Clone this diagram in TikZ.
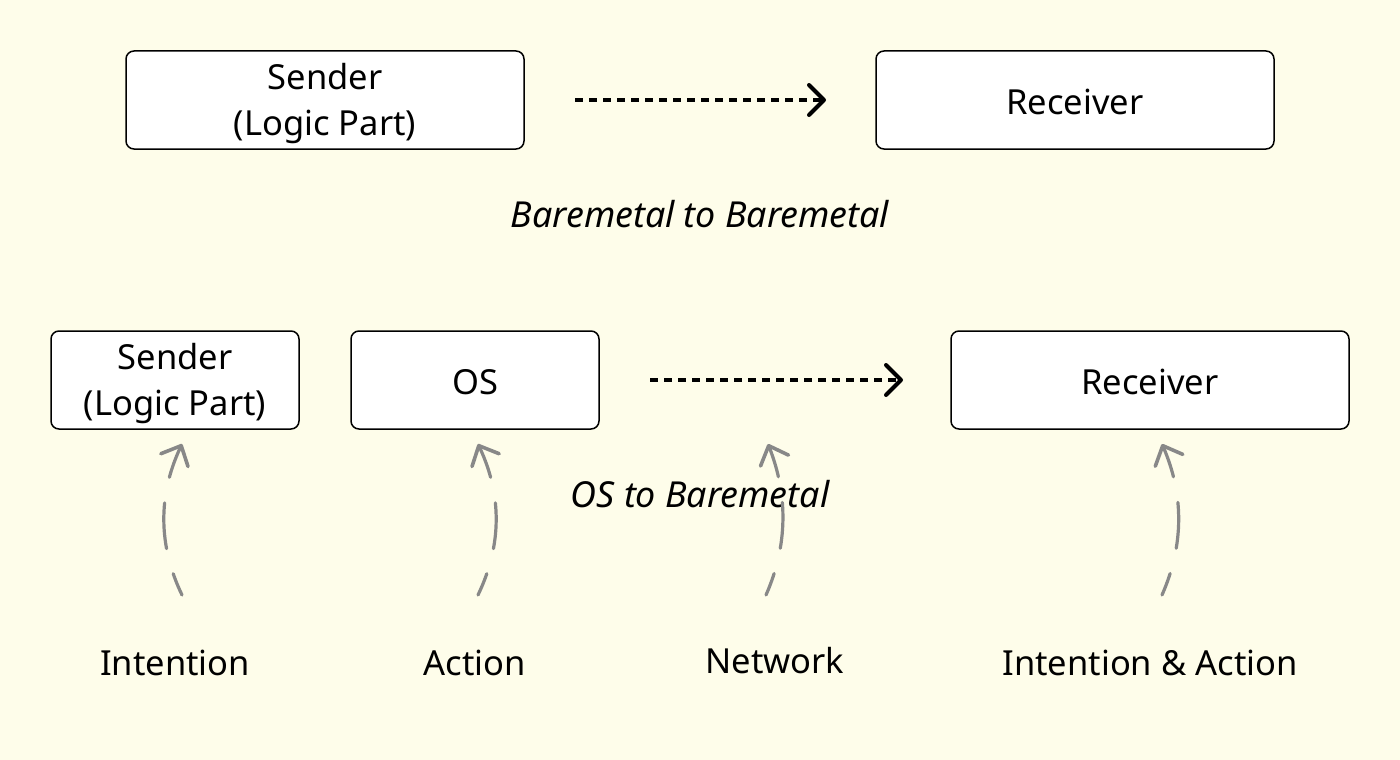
\documentclass[tikz,border=0pt]{standalone}
\usepackage{fontspec}
\setmainfont{Noto Sans}
\usetikzlibrary{arrows.meta}
\definecolor{bg}{RGB}{254,253,234}
\definecolor{arrgray}{RGB}{136,136,136}
\tikzset{
  box/.style={draw=black, line width=1.5pt, rounded corners=8pt, fill=white, align=center, inner sep=0pt},
  lbl/.style={font=\fontsize{34.5}{46}\selectfont, align=center, inner sep=0pt},
  ital/.style={font=\fontsize{35.8}{40}\selectfont\itshape, inner sep=0pt},
  flow/.style={line width=3.2pt, dash pattern=on 8pt off 6pt, -{Straight Barb[length=15pt,width=30pt,line width=4pt,line cap=round,line join=round]}},
  grayarr/.style={draw=arrgray, line width=3.2pt, line cap=round, dash pattern=on 46pt off 26pt, dash phase=23pt, -{Straight Barb[length=16pt,width=30pt,line width=3.6pt,line cap=round,line join=round]}}
}
\begin{document}
\begin{tikzpicture}[x=1pt,y=-1pt]
\fill[bg] (0,0) rectangle (1400,760);
\useasboundingbox (0,0) rectangle (1400,760);
% top row
\draw[box] (126,51) rectangle (524,149);
\node[lbl] (s1) at (325,104) {Sender\\(Logic Part)};
\draw[box] (876,51) rectangle (1274,149);
\node[lbl] (r1) at (1075,102) {Receiver};
\coordinate (a1s) at (575,100);
\coordinate (a1e) at (826,100);
\draw[flow] (a1s) -- (a1e);
\node[ital] (t1) at (700,214) {Baremetal to Baremetal};
% bottom row
\draw[box] (51,331) rectangle (299,429);
\node[lbl] (s2) at (175,384) {Sender\\(Logic Part)};
\draw[box] (351,331) rectangle (599,429);
\node[lbl] (os) at (475,382) {OS};
\draw[box] (951,331) rectangle (1349,429);
\node[lbl] (r2) at (1150,382) {Receiver};
\coordinate (a2s) at (650,380);
\coordinate (a2e) at (903,380);
\draw[flow] (a2s) -- (a2e);
\node[ital] (t2) at (700,494) {OS to Baremetal};
% labels
\node[lbl] (l1) at (175,663) {Intention};
\node[lbl] (l2) at (475,663) {Action};
\node[lbl] (l3) at (775,661) {Network};
\node[lbl] (l4) at (1150,663) {Intention \& Action};
% gray curved arrows
\coordinate (g1s) at (182,595); \coordinate (g1e) at (182,444);
\coordinate (g2s) at (478,595); \coordinate (g2e) at (478,444);
\coordinate (g3s) at (766,595); \coordinate (g3e) at (768,444);
\coordinate (g4s) at (1162,595); \coordinate (g4e) at (1162,444);
\draw[grayarr] (g1s) .. controls (158,545) and (158,495) .. (g1e);
\draw[grayarr] (g2s) .. controls (502,545) and (502,495) .. (g2e);
\draw[grayarr] (g3s) .. controls (788,545) and (788,495) .. (g3e);
\draw[grayarr] (g4s) .. controls (1184,545) and (1184,495) .. (g4e);
\end{tikzpicture}
\end{document}
